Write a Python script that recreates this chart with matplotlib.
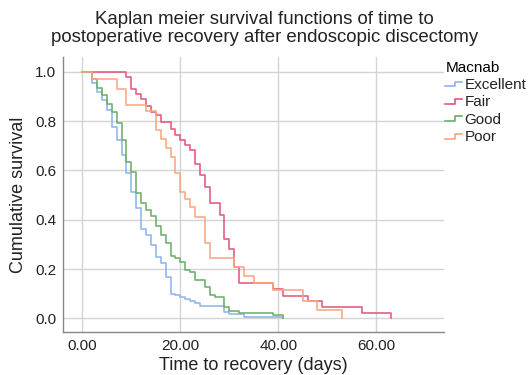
import matplotlib.pyplot as plt
from matplotlib.legend_handler import HandlerBase
from matplotlib.lines import Line2D

plt.rcParams['font.family'] = ['Liberation Sans', 'DejaVu Sans']

# Kaplan-Meier step curves (day, cumulative survival)
excellent_t = [0, 2, 3, 4, 5, 6, 7, 8, 9, 10, 11, 12, 13, 14, 15, 16, 17, 18,
               19, 20, 21, 22, 23, 24, 29, 30, 33, 41]
excellent_s = [1.0, 0.953, 0.918, 0.885, 0.845, 0.777, 0.723, 0.662, 0.588,
               0.513, 0.446, 0.361, 0.338, 0.297, 0.25, 0.223, 0.169, 0.101,
               0.094, 0.088, 0.080, 0.071, 0.063, 0.05, 0.027, 0.018, 0.007, 0.0]

fair_t = [0, 9, 10, 11, 12, 13, 14, 15, 16, 18, 19, 20, 21, 22, 23, 24, 25,
          26, 28, 29, 30, 31, 32, 39, 41, 46, 49, 57, 63]
fair_s = [1.0, 0.978, 0.931, 0.911, 0.891, 0.861, 0.837, 0.823, 0.795, 0.77,
          0.743, 0.723, 0.703, 0.682, 0.628, 0.581, 0.534, 0.466, 0.419, 0.324,
          0.28, 0.209, 0.142, 0.118, 0.09, 0.071, 0.047, 0.023, 0.0]

good_t = [0, 2, 3, 4, 5, 6, 7, 8, 9, 10, 11, 12, 13, 14, 15, 16, 17, 18, 19,
          20, 21, 22, 23, 25, 26, 27, 29, 30, 32, 39, 41]
good_s = [1.0, 0.971, 0.934, 0.905, 0.868, 0.838, 0.793, 0.723, 0.635, 0.595,
          0.51, 0.466, 0.439, 0.414, 0.376, 0.338, 0.307, 0.253, 0.243, 0.23,
          0.196, 0.189, 0.155, 0.126, 0.094, 0.088, 0.047, 0.031, 0.023,
          0.013, 0.0]

poor_t = [0, 2, 7, 9, 13, 15, 16, 17, 18, 19, 20, 21, 22, 23, 25, 26, 31, 33,
          35, 39, 45, 48, 53]
poor_s = [1.0, 0.969, 0.931, 0.864, 0.843, 0.762, 0.728, 0.689, 0.655, 0.588,
          0.513, 0.483, 0.453, 0.412, 0.304, 0.243, 0.209, 0.172, 0.142, 0.115,
          0.071, 0.034, 0.0]

groups = ["Excellent", "Fair", "Good", "Poor"]
colors = ["#8db4ee", "#e4577a", "#6aae66", "#fba57e"]
x_ticks = [0, 20, 40, 60]
y_ticks = [0.0, 0.2, 0.4, 0.6, 0.8, 1.0]


class StepHandler(HandlerBase):
    # small step-shaped legend key like the original
    def create_artists(self, legend, orig_handle, xdescent, ydescent,
                       width, height, fontsize, trans):
        xs = [0, width * 0.55, width * 0.55, width]
        ys = [height * 0.25, height * 0.25, height * 0.7, height * 0.7]
        ln = Line2D(xs, ys, color=orig_handle.get_color(), lw=1.2,
                    transform=trans)
        return [ln]


fig = plt.figure(figsize=(5.29, 3.75), dpi=100)
ax = fig.add_axes([0.1197, 0.1147, 0.7193, 0.7333])

curves = [(excellent_t, excellent_s), (fair_t, fair_s),
          (good_t, good_s), (poor_t, poor_s)]
handles = []
for (t, s), name, col in zip(curves, groups, colors):
    h, = ax.step(t, s, where="post", color=col, lw=1.2, alpha=0.95, label=name)
    handles.append(h)

ax.set_xlim(-3.9, 73.8)
ax.set_ylim(-0.055, 1.06)
ax.set_xticks(x_ticks)
ax.set_xticklabels([f"{v:.2f}" for v in x_ticks])
ax.set_yticks(y_ticks)
ax.set_yticklabels([f"{v:.1f}" for v in y_ticks])
ax.tick_params(length=0, labelsize=11, labelcolor="#222222", pad=5)
ax.grid(True, color="#d4d4d4", lw=1.0)
ax.set_axisbelow(True)
for side in ["top", "right"]:
    ax.spines[side].set_visible(False)
for side in ["left", "bottom"]:
    ax.spines[side].set_color("#888888")
    ax.spines[side].set_linewidth(1.0)

ax.set_xlabel("Time to recovery (days)", fontsize=13, color="#222222", labelpad=3)
ax.set_ylabel("Cumulative survival", fontsize=13, color="#222222", labelpad=6)

fig.text(0.5, 0.972, "Kaplan meier survival functions of time to\n"
         "postoperative recovery after endoscopic discectomy",
         ha="center", va="top", fontsize=13.4, color="#222222", linespacing=1.15)

leg = fig.legend(handles=handles, labels=groups, title="Macnab",
                 loc="upper left", bbox_to_anchor=(0.842, 0.838),
                 frameon=False, fontsize=11, title_fontsize=11,
                 handlelength=1.1, handletextpad=0.15, labelspacing=0.22,
                 borderaxespad=0, borderpad=0,
                 handler_map={Line2D: StepHandler()})
leg._legend_box.align = "left"
for txt in leg.get_texts():
    txt.set_color("#222222")

fig.savefig("out.png", dpi=100)
